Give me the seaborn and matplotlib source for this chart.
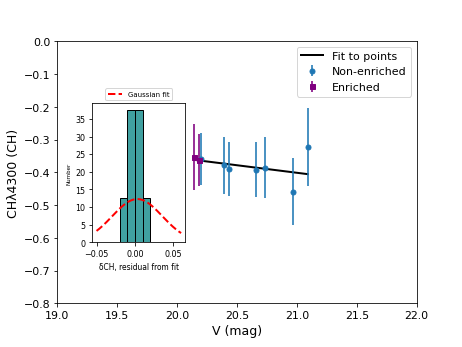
# CH index vs V magnitude, with residual histogram inset

import numpy as np
import pandas as pd
import matplotlib
matplotlib.use('Agg')
import matplotlib.pyplot as plt
import seaborn as sns

# data
v_non = [20.20, 20.39, 20.43, 20.66, 20.73, 20.97, 21.09]
ch_non = [-0.360, -0.378, -0.390, -0.392, -0.386, -0.459, -0.324]
err_non = [0.080, 0.087, 0.083, 0.085, 0.093, 0.102, 0.119]

v_enr = [20.14, 20.18]
ch_enr = [-0.353, -0.362]
err_enr = [0.100, 0.080]

# linear fit to points
fit_x0 = 20.14
fit_y0 = -0.362
fit_slope = -0.046

# residuals from the fit (histogram in inset)
residuals = [-0.015, -0.005, -0.005, -0.005, 0.005, 0.005, 0.005, 0.015]
bin_edges = [-0.02, -0.01, 0.0, 0.01, 0.02]
gauss_mu = 0.003
gauss_sigma = 0.0325
gauss_range = [-0.05, 0.06]

fig = plt.figure(figsize=(6.43, 4.83), dpi=72)
ax = fig.add_axes([0.1238, 0.1256, 0.7763, 0.7537])

# fit line over the range of all points
all_v = np.array(v_non + v_enr)
fx = np.array([all_v.min(), all_v.max()])
df_fit = pd.DataFrame({'v': fx, 'ch': fit_y0 + fit_slope * (fx - fit_x0)})
sns.lineplot(x='v', y='ch', data=df_fit, color='black', lw=2, ax=ax, label='Fit to points')

ax.errorbar(v_non, ch_non, yerr=err_non, fmt='o', color='C0', ms=5,
            elinewidth=2, ecolor=(0.12, 0.47, 0.71, 0.8), label='Non-enriched')
ax.errorbar(v_enr, ch_enr, yerr=err_enr, fmt='s', color='purple', ms=5,
            elinewidth=2, ecolor=(0.5, 0.0, 0.5, 0.8), label='Enriched')

ax.set_xlim(19.0, 22.0)
ax.set_ylim(-0.8, 0.0)
ax.tick_params(labelsize=11)
ax.set_xlabel('V (mag)', fontsize=12.5)
ax.set_ylabel('CH\u03bb4300 (CH)', fontsize=12.5)
ax.legend(loc='upper right', fontsize=11)

# inset histogram of residuals
ins = fig.add_axes([0.1994, 0.3009, 0.2009, 0.3994])
sns.histplot(residuals, bins=bin_edges, stat='density', color='teal', alpha=0.75,
             edgecolor='black', linewidth=1, ax=ins)
gx = np.linspace(gauss_range[0], gauss_range[1], 200)
gy = np.exp(-0.5 * ((gx - gauss_mu) / gauss_sigma) ** 2) / (gauss_sigma * np.sqrt(2 * np.pi))
sns.lineplot(x=gx, y=gy, color='red', ls='--', lw=2, ax=ins, label='Gaussian fit')
ins.set_xticks([-0.05, 0.0, 0.05])
ins.set_yticks(range(0, 36, 5))
ins.tick_params(labelsize=8)
ins.set_ylabel('Number', fontsize=5.5)
ins.set_xlabel('\u03b4CH, residual from fit', fontsize=7.5)
ins.legend(loc='lower center', bbox_to_anchor=(0.5, 1.0), fontsize=7)

plt.savefig('out.png', dpi=72)
